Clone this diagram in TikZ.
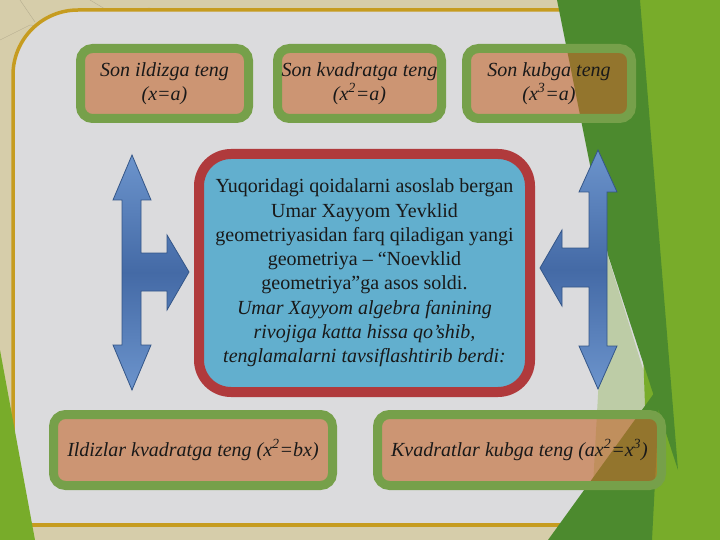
\documentclass[tikz,border=0pt]{standalone}
\usepackage{fontspec}
\setmainfont{Liberation Serif}
\usepackage{xcolor}
\usepackage{tikz}
\usetikzlibrary{calc}

\definecolor{pergamen}{RGB}{214,205,170}
\definecolor{yoriq}{RGB}{219,219,221}
\definecolor{oltin}{RGB}{198,156,32}
\definecolor{yashil}{RGB}{120,172,42}
\definecolor{toqyashil}{RGB}{76,138,46}
\definecolor{hoshiya}{RGB}{118,160,74}
\definecolor{jigar}{RGB}{195,103,45}
\definecolor{qizil}{RGB}{176,58,60}
\definecolor{moviy}{RGB}{98,175,206}
\definecolor{kok}{RGB}{108,148,204}
\definecolor{kokto}{RGB}{68,106,166}
\definecolor{chiziq}{RGB}{52,86,136}

\begin{document}
\begin{tikzpicture}[x=1pt, y=-1pt,
    qoida/.style={draw=hoshiya, line width=9pt, fill=jigar, fill opacity=0.6, text opacity=1,
        rounded corners=12pt, align=center, inner sep=0pt, text=black!90,
        font=\itshape\fontsize{20}{24}\selectfont},
    markaz/.style={draw=qizil, line width=10pt, fill=moviy, rounded corners=32pt,
        align=center, inner sep=0pt, text=black!90, minimum width=331pt, minimum height=238pt,
        font=\fontsize{20}{24.3}\selectfont},
    strelka/.style={draw=chiziq, line width=0.8pt, top color=kok, bottom color=kok, middle color=kokto}]
        %LATAR
        \useasboundingbox (0,0) rectangle (720,540);
        \fill[pergamen] (0,0) rectangle (720,540);
        \draw[pergamen!85!black, thin] (0,40) -- (30,25) -- (70,30) (20,0) -- (35,22) (90,0) -- (110,12) -- (150,8);
        %PANEL
        \fill[yoriq] (13,525) -- (13,75) arc[start angle=180, end angle=270, radius=65] -- (720,10) -- (720,525) -- cycle;
        \draw[oltin, line width=3.5pt] (13,525) -- (13,75) arc[start angle=180, end angle=270, radius=65] -- (720,10);
        \draw[oltin, line width=3.5pt] (13,525) -- (720,525);
        %YASHIL
        \fill[yashil] (0,350) -- (35,540) -- (0,540) -- cycle;
        \fill[yashil] (630,0) -- (720,0) -- (720,540) -- (650,540) -- cycle;
        \fill[toqyashil] (557,0) -- (640,0) -- (678,470) -- (608,255) -- cycle;
        \fill[yashil, opacity=0.3] (606,250) -- (690,520) -- (590,540) -- cycle;
        \fill[toqyashil] (548,540) -- (660,385) -- (652,540) -- cycle;
        %QOIDALAR
        \node[qoida, minimum width=168pt, minimum height=70pt] (ildiz) at (164.5,83.5) {Son ildizga teng\\(x=a)};
        \node[qoida, minimum width=164pt, minimum height=70pt] (kvadrat) at (359.5,83.5) {Son kvadratga teng\\(x\textsuperscript{2}=a)};
        \node[qoida, minimum width=165pt, minimum height=70pt] (kub) at (549,83.5) {Son kubga teng\\(x\textsuperscript{3}=a)};
        \node[qoida, minimum width=279pt, minimum height=71pt] (ildizlar) at (193,450) {Ildizlar kvadratga teng (x\textsuperscript{2}=bx)};
        \node[qoida, minimum width=284pt, minimum height=71pt] (kvadratlar) at (519.5,450) {Kvadratlar kubga teng (ax\textsuperscript{2}=x\textsuperscript{3})};
        %MARKAZ
        \node[markaz] (xayyom) at (364.5,273) {Yuqoridagi qoidalarni asoslab bergan\\
            Umar Xayyom Yevklid\\
            geometriyasidan farq qiladigan yangi\\
            geometriya – “Noevklid\\
            geometriya”ga asos soldi.\\
            \textit{Umar Xayyom algebra fanining}\\
            \textit{rivojiga katta hissa qo’shib,}\\
            \textit{tenglamalarni tavsiflashtirib berdi:}};
        %STRELKALAR
        \draw[strelka] (132,155) -- (151,200) -- (141,200) -- (141,253) -- (167,253) -- (167,235) -- (189,272)
            -- (167,310) -- (167,291) -- (141,291) -- (141,345) -- (151,345) -- (132,390) -- (113,345)
            -- (122,345) -- (122,200) -- (113,200) -- cycle;
        \draw[strelka] (598,150) -- (617,192) -- (607,192) -- (607,346) -- (617,346) -- (598,389) -- (579,346)
            -- (589,346) -- (589,287) -- (562,287) -- (562,306) -- (540,268) -- (562,230) -- (562,248)
            -- (589,248) -- (589,192) -- (579,192) -- cycle;
    \end{tikzpicture}
\end{document}
